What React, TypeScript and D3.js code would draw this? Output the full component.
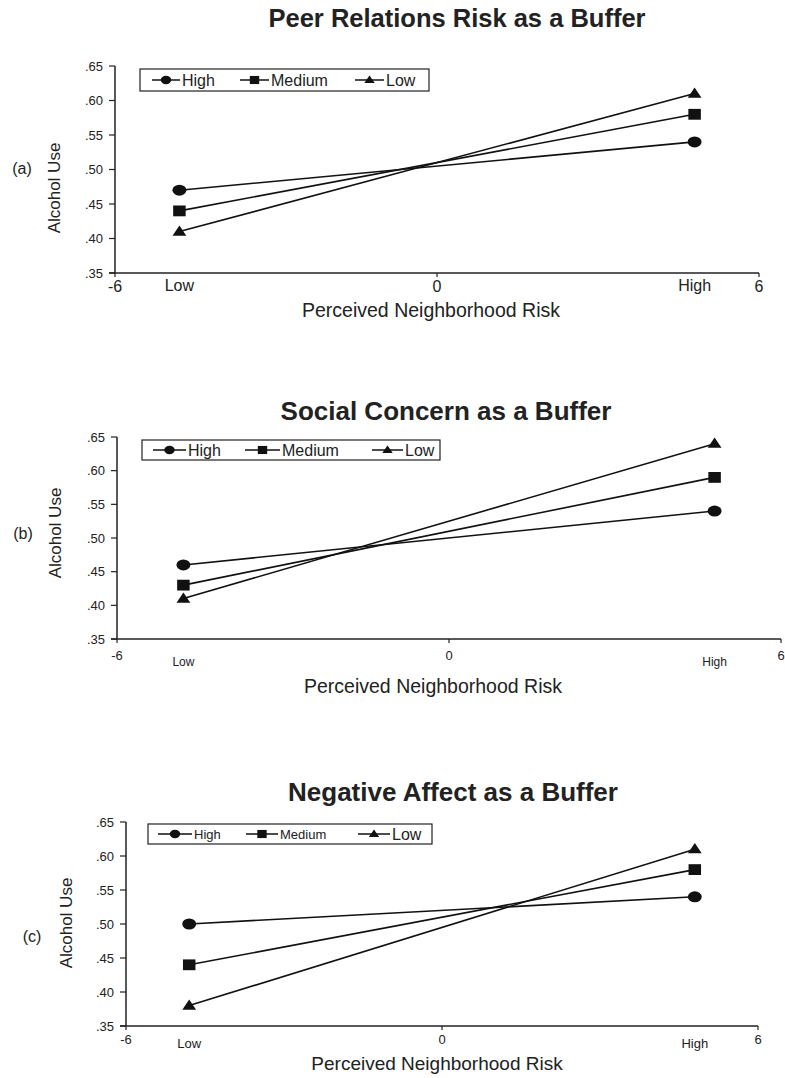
import React from "react";
import * as d3 from "d3";

// moderator levels and the two plotted x positions (-1 SD / +1 SD)
const levels = ["High", "Medium", "Low"];
const xPoints = [-4.8, 4.8];
const xTicks = [-6, 0, 6];
const yTicks = [0.35, 0.4, 0.45, 0.5, 0.55, 0.6, 0.65];
const yTickLabels = [".35", ".40", ".45", ".50", ".55", ".60", ".65"];

// alcohol use at low / high neighborhood risk, per level (High, Medium, Low)
const peerRelations = [
  [0.47, 0.54],
  [0.44, 0.58],
  [0.41, 0.61],
];
const socialConcern = [
  [0.46, 0.54],
  [0.43, 0.59],
  [0.41, 0.64],
];
const negativeAffect = [
  [0.5, 0.54],
  [0.44, 0.58],
  [0.38, 0.61],
];

const FONT = "'Liberation Sans', Arial, sans-serif";

const panels = [
  {
    tag: "(a)",
    title: "Peer Relations Risk as a Buffer",
    data: peerRelations,
    left: 115, right: 759, top: 66, bottom: 273,
    titleX: 457, titleY: 27, titleSize: 25.5,
    tagX: 22, tagY: 174,
    yTitleX: 60, yTitleY: 188,
    xTitleX: 431, xTitleY: 317, xTitleSize: 19.5,
    xTickSize: 16, xTickDy: 19, catSize: 16, catDy: 18,
    legend: { x0: 140, x1: 429, y0: 69, y1: 91, items: [[152, 182, 16], [240, 271, 16], [355, 386, 16]] },
  },
  {
    tag: "(b)",
    title: "Social Concern as a Buffer",
    data: socialConcern,
    left: 117, right: 781, top: 437, bottom: 639,
    titleX: 446, titleY: 420, titleSize: 26,
    tagX: 23, tagY: 539,
    yTitleX: 61, yTitleY: 533,
    xTitleX: 433, xTitleY: 693, xTitleSize: 19.5,
    xTickSize: 13, xTickDy: 21, catSize: 12, catDy: 27,
    legend: { x0: 142, x1: 440, y0: 440, y1: 460, items: [[153, 188, 16], [245, 282, 16], [372, 405, 16]] },
  },
  {
    tag: "(c)",
    title: "Negative Affect as a Buffer",
    data: negativeAffect,
    left: 126, right: 758, top: 822, bottom: 1026,
    titleX: 453, titleY: 801, titleSize: 26,
    tagX: 32, tagY: 942,
    yTitleX: 72, yTitleY: 923,
    xTitleX: 437, xTitleY: 1070, xTitleSize: 19,
    xTickSize: 13, xTickDy: 18, catSize: 13, catDy: 22,
    legend: { x0: 148, x1: 432, y0: 824, y1: 844, items: [[158, 194, 13], [246, 280, 13], [358, 392, 16]] },
  },
];

function Marker({ kind, x, y, s }: { kind: number; x: number; y: number; s: number }) {
  if (kind === 0) return <ellipse cx={x} cy={y} rx={s * 0.58} ry={s * 0.46} fill="#111" />;
  if (kind === 1)
    return <rect x={x - s * 0.52} y={y - s * 0.45} width={s * 1.04} height={s * 0.9} fill="#111" />;
  const h = s * 0.85;
  const w = s * 1.15;
  return (
    <path
      d={`M${x},${y - h * 0.6}L${x + w / 2},${y + h * 0.4}L${x - w / 2},${y + h * 0.4}Z`}
      fill="#111"
    />
  );
}

function Panel({ p }: { p: (typeof panels)[number] }) {
  const x = d3.scaleLinear().domain([-6, 6]).range([p.left, p.right]);
  const y = d3.scaleLinear().domain([0.35, 0.65]).range([p.bottom, p.top]);
  const line = d3
    .line<number>()
    .x((_, i) => x(xPoints[i]))
    .y((d) => y(d));
  const lg = p.legend;
  const lgMid = (lg.y0 + lg.y1) / 2;

  return (
    <g fontFamily={FONT} fill="#222">
      <text x={p.titleX} y={p.titleY} fontSize={p.titleSize} fontWeight="bold" textAnchor="middle">
        {p.title}
      </text>
      <text x={p.tagX} y={p.tagY} fontSize={16} textAnchor="middle">
        {p.tag}
      </text>
      <text
        transform={`translate(${p.yTitleX},${p.yTitleY}) rotate(-90)`}
        fontSize={17}
        textAnchor="middle"
      >
        Alcohol Use
      </text>
      <text x={p.xTitleX} y={p.xTitleY} fontSize={p.xTitleSize} textAnchor="middle">
        Perceived Neighborhood Risk
      </text>

      {/* axes */}
      <line x1={x(-6)} x2={x(-6)} y1={y(0.65)} y2={y(0.35)} stroke="#222" strokeWidth={1.5} />
      <line x1={x(-6) - 6} x2={x(6)} y1={y(0.35)} y2={y(0.35)} stroke="#222" strokeWidth={1.5} />
      {yTicks.map((t, i) => (
        <g key={t}>
          <line x1={x(-6) - 6} x2={x(-6)} y1={y(t)} y2={y(t)} stroke="#222" strokeWidth={1.2} />
          <text x={x(-6) - 12} y={y(t) + 4.5} fontSize={13} textAnchor="end">
            {yTickLabels[i]}
          </text>
        </g>
      ))}
      {xTicks.map((t) => (
        <g key={t}>
          <line x1={x(t)} x2={x(t)} y1={y(0.35)} y2={y(0.35) + 4} stroke="#222" strokeWidth={1.2} />
          <text x={x(t)} y={y(0.35) + p.xTickDy} fontSize={p.xTickSize} textAnchor="middle">
            {t}
          </text>
        </g>
      ))}
      {["Low", "High"].map((c, i) => (
        <text key={c} x={x(xPoints[i])} y={y(0.35) + p.catDy} fontSize={p.catSize} textAnchor="middle">
          {c}
        </text>
      ))}

      {/* series */}
      {p.data.map((vals, k) => (
        <g key={k}>
          <path d={line(vals) || ""} fill="none" stroke="#111" strokeWidth={1.6} />
          {vals.map((v, i) => (
            <Marker key={i} kind={k} x={x(xPoints[i])} y={y(v)} s={12} />
          ))}
        </g>
      ))}

      {/* legend */}
      <rect x={lg.x0} y={lg.y0} width={lg.x1 - lg.x0} height={lg.y1 - lg.y0} fill="#fff" stroke="#222" strokeWidth={1.2} />
      {levels.map((name, k) => {
        const [lx, tx, fs] = lg.items[k];
        return (
          <g key={name}>
            <line x1={lx} x2={tx - 2} y1={lgMid} y2={lgMid} stroke="#111" strokeWidth={1.5} />
            <Marker kind={k} x={(lx + tx - 2) / 2} y={lgMid} s={9} />
            <text x={tx} y={lgMid + fs * 0.36} fontSize={fs}>
              {name}
            </text>
          </g>
        );
      })}
    </g>
  );
}

export default function App() {
  return (
    <svg
      width={785}
      height={1078}
      style={{ position: "absolute", left: 0, top: 0, background: "#fff" }}
    >
      <rect width={785} height={1078} fill="#fff" />
      {panels.map((p) => (
        <Panel key={p.tag} p={p} />
      ))}
    </svg>
  );
}
